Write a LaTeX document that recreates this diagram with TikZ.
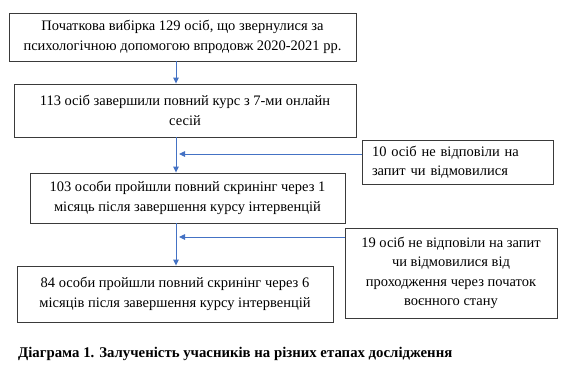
\documentclass[tikz,border=0pt]{standalone}
\usepackage{fontspec}
\setmainfont{Liberation Serif}
\usetikzlibrary{arrows.meta}
\definecolor{arrblue}{HTML}{4472C4}
\definecolor{boxline}{HTML}{3A3A3A}
\tikzset{
  box/.style={draw=boxline, line width=0.9pt, rectangle, inner sep=0pt, align=center,
    font=\fontsize{14.5}{19.5}\selectfont},
  flow/.style={draw=arrblue, line width=0.9pt, -{Triangle[width=5.5pt,length=6pt]}},
}
\begin{document}
\begin{tikzpicture}[x=1pt,y=-1pt]
\useasboundingbox (0,0) rectangle (585,373);
\node[box, minimum width=347pt, minimum height=48pt] (b1) at (182.5,37)
  {Початкова вибірка 129 осіб, що звернулися за\\психологічною допомогою впродовж 2020-2021 рр.};
\node[box, minimum width=342pt, minimum height=53pt] (b2) at (185,110.5)
  {113 осіб завершили повний курс з 7-ми онлайн\\сесій};
\node[box, align=left, inner xsep=10pt, text width=171pt, minimum height=44pt] (b10) at (457.5,162)
  {10 осіб не відповіли на\\запит чи відмовилися};
\node[box, minimum width=315pt, minimum height=50pt] (b3) at (187.5,198)
  {103 особи пройшли повний скринінг через 1\\місяць після завершення курсу інтервенцій};
\node[box, minimum width=212pt, minimum height=90pt] (b19) at (451,273)
  {19 осіб не відповіли на запит\\чи відмовилися від\\проходження через початок\\воєнного стану};
\node[box, minimum width=316pt, minimum height=56pt] (b4) at (175,294)
  {84 особи пройшли повний скринінг через 6\\місяців після завершення курсу інтервенцій};
\coordinate (c) at (176,0);
\coordinate (h1) at (179,154);
\coordinate (h2) at (179,237);
\draw[flow] (b1.south -| c) -- (b2.north -| c);
\draw[flow] (b2.south -| c) -- (b3.north -| c);
\draw[flow] (b3.south -| c) -- (b4.north -| c);
\draw[flow] (b10.west |- h1) -- (h1);
\draw[flow] (b19.west |- h2) -- (h2);
\node[anchor=west, inner sep=0pt, font=\bfseries\fontsize{14.8}{17}\selectfont] (cap) at (18,354)
  {Діаграма 1. Залученість учасників на різних етапах дослідження};
\end{tikzpicture}
\end{document}
